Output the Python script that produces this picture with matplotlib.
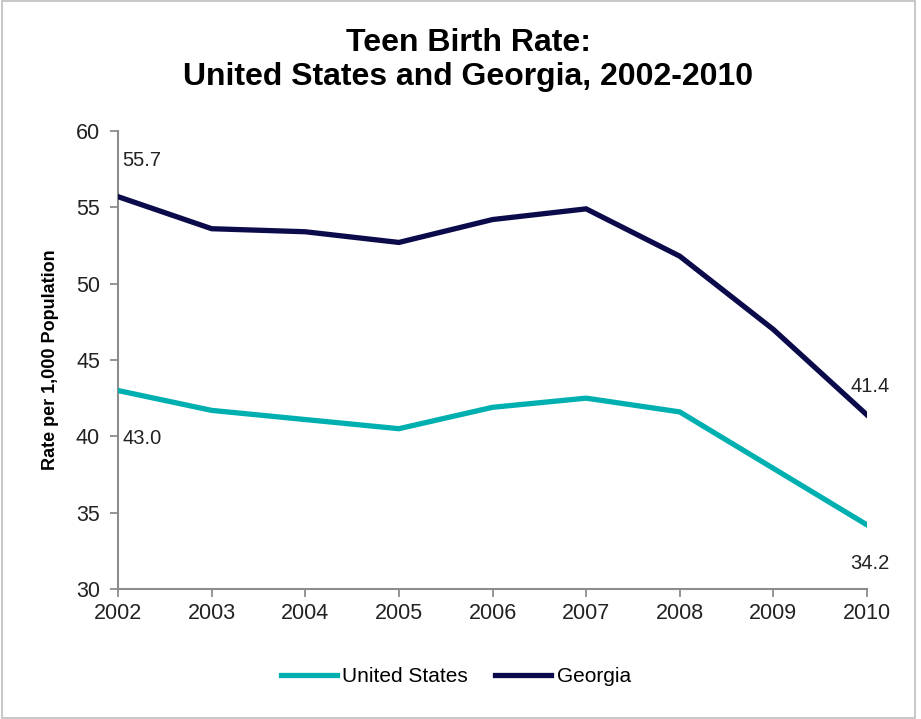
import matplotlib
matplotlib.use("Agg")
import matplotlib.pyplot as plt
from matplotlib.patches import Rectangle

plt.rcParams['font.family'] = ['Liberation Sans', 'DejaVu Sans']

years = [2002, 2003, 2004, 2005, 2006, 2007, 2008, 2009, 2010]
us_rate = [43.0, 41.7, 41.1, 40.5, 41.9, 42.5, 41.6, 37.9, 34.2]
ga_rate = [55.7, 53.6, 53.4, 52.7, 54.2, 54.9, 51.8, 47.0, 41.4]
series_names = ["United States", "Georgia"]
y_ticks = [30, 35, 40, 45, 50, 55, 60]

teal = "#00AFAF"
navy = "#0B0B4B"
axis_gray = "#8C8C8C"

fig = plt.figure(figsize=(9.21, 7.19), dpi=100)
ax = fig.add_axes([118/921, 1 - 589/719, (867-118)/921, (589-131)/719])

ax.plot(years, us_rate, color=teal, lw=3.8, solid_joinstyle='miter', label=series_names[0])
ax.plot(years, ga_rate, color=navy, lw=3.8, solid_joinstyle='miter', label=series_names[1])

ax.set_xlim(years[0], years[-1])
ax.set_ylim(30, 60)
ax.set_xticks(years)
ax.set_yticks(y_ticks)
ax.tick_params(axis='both', direction='out', length=6, width=1.3, color=axis_gray,
               labelsize=15.5, labelcolor="#222222")
ax.tick_params(axis='y', pad=7)
ax.tick_params(axis='x', pad=4)
for side in ['top', 'right']:
    ax.spines[side].set_visible(False)
for side in ['left', 'bottom']:
    ax.spines[side].set_color(axis_gray)
    ax.spines[side].set_linewidth(1.5)
ax.spines['left'].set_zorder(0)

ax.set_ylabel("Rate per 1,000 Population", fontsize=13, fontweight='bold', labelpad=12)

lab = dict(fontsize=14.5, color="#222222")
ax.annotate(f"{ga_rate[0]:.1f}", (years[0], ga_rate[0]), xytext=(3, 19),
            textcoords='offset points', ha='left', va='bottom', **lab)
ax.annotate(f"{us_rate[0]:.1f}", (years[0], us_rate[0]), xytext=(3, -28),
            textcoords='offset points', ha='left', va='top', **lab)
ax.annotate(f"{ga_rate[-1]:.1f}", (years[-1], ga_rate[-1]), xytext=(2, 14),
            textcoords='offset points', ha='center', va='bottom', **lab)
ax.annotate(f"{us_rate[-1]:.1f}", (years[-1], us_rate[-1]), xytext=(2, -21),
            textcoords='offset points', ha='center', va='top', **lab)

fig.text(468/921, 1 - 60/719, "Teen Birth Rate:\nUnited States and Georgia, 2002-2010",
         ha='center', va='center', fontsize=23, fontweight='bold', linespacing=1.2)

fig.legend(loc='center', bbox_to_anchor=(0.495, 1 - 677/719), ncol=2, frameon=False,
           fontsize=15, handlelength=2.7, columnspacing=1.3, handletextpad=0.25)

fig.patches.append(Rectangle((0.002, 0.002), 0.992, 0.996, transform=fig.transFigure,
                             fill=False, edgecolor="#BDBDBD", lw=1.2))

fig.savefig("out.png", dpi=100)
